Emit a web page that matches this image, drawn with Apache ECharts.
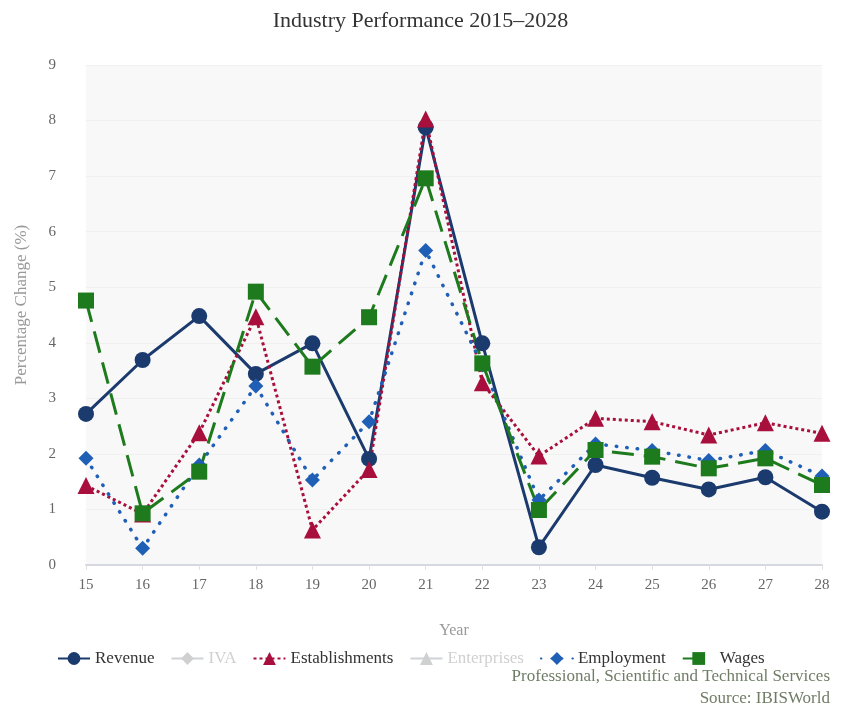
<!DOCTYPE html>
<html>
<head>
<meta charset="utf-8">
<title>Industry Performance 2015–2028</title>
<script src="https://cdn.jsdelivr.net/npm/echarts@6/dist/echarts.min.js"></script>
<style>
  html, body { margin: 0; padding: 0; background: #fff; }
  #chart { width: 841px; height: 707px; }
</style>
</head>
<body>
<div id="chart"></div>
<script>
// Values (percentage change, years 2015-2028).
const years = ["15", "16", "17", "18", "19", "20", "21", "22", "23", "24", "25", "26", "27", "28"];
const revenue = [2.72, 3.69, 4.48, 3.44, 3.99, 1.91, 7.88, 3.99, 0.32, 1.8, 1.57, 1.36, 1.58, 0.96];
const iva = [];
const establishments = [1.43, 0.92, 2.38, 4.47, 0.63, 1.72, 8.03, 3.28, 1.96, 2.64, 2.58, 2.34, 2.56, 2.37];
const enterprises = [];
const employment = [1.92, 0.3, 1.8, 3.22, 1.53, 2.58, 5.66, 3.6, 1.17, 2.18, 2.06, 1.88, 2.06, 1.6];
const wages = [4.76, 0.93, 1.68, 4.92, 3.57, 4.46, 6.96, 3.63, 0.99, 2.07, 1.95, 1.74, 1.92, 1.44];

const serif = "Liberation Serif";

let lineSeries = (name, data, color, symbol, size, dash, cap, width) => ({
  name: name,
  type: "line",
  data: data,
  symbol: symbol,
  symbolSize: size,
  showAllSymbol: true,
  itemStyle: { color: color },
  lineStyle: { color: color, width: width || 3, type: dash, cap: cap || "butt" },
  emphasis: { disabled: true },
});

let chart = echarts.init(document.getElementById("chart"));

chart.setOption({
  animation: false,
  backgroundColor: "#ffffff",
  textStyle: { fontFamily: serif },
  title: {
    text: "Industry Performance 2015–2028",
    left: "center",
    top: 5,
    textStyle: { fontFamily: serif, fontSize: 22, fontWeight: "normal", color: "#333" },
  },
  grid: {
    left: 86,
    right: 19,
    top: 65,
    bottom: 142,
    show: true,
    backgroundColor: "#f8f8f8",
    borderWidth: 0,
  },
  legend: {
    left: 52,
    top: 645,
    itemWidth: 32,
    itemHeight: 16,
    itemGap: 16,
    textStyle: { fontFamily: serif, fontSize: 17, color: "#333" },
    inactiveColor: "#d0d0d0",
    selected: { IVA: false, Enterprises: false },
    data: ["Revenue", "IVA", "Establishments", "Enterprises", "Employment", "Wages"],
  },
  xAxis: {
    type: "category",
    data: years,
    boundaryGap: false,
    name: "Year",
    nameLocation: "middle",
    nameGap: 58,
    nameTextStyle: { fontFamily: serif, fontSize: 16, color: "#999" },
    axisLine: { lineStyle: { color: "#d5d8de", width: 2 } },
    axisTick: { show: true, length: 5, lineStyle: { color: "#e0e0e0" } },
    axisLabel: { fontFamily: serif, fontSize: 15, color: "#666", margin: 13 },
    splitLine: { show: false },
  },
  yAxis: {
    type: "value",
    min: 0,
    max: 9,
    interval: 1,
    name: "Percentage Change (%)",
    nameLocation: "middle",
    nameGap: 56,
    nameTextStyle: { fontFamily: serif, fontSize: 17, color: "#999", padding: [0, 0, 0, 20] },
    axisLine: { show: false },
    axisTick: { show: false },
    axisLabel: { fontFamily: serif, fontSize: 15, color: "#666", margin: 30 },
    splitLine: { lineStyle: { color: "#f0f0f0", width: 1 } },
  },
  graphic: [
    {
      type: "text",
      right: 11,
      top: 668,
      style: { text: "Professional, Scientific and Technical Services", font: "17px 'Liberation Serif'", fill: "#6f7d66" },
    },
    {
      type: "text",
      right: 11,
      top: 690,
      style: { text: "Source: IBISWorld", font: "17px 'Liberation Serif'", fill: "#6f7d66" },
    },
  ],
  series: [
    lineSeries("Revenue", revenue, "#1b3a6d", "circle", 16, "solid"),
    lineSeries("IVA", iva, "#9aa0a6", "diamond", 15, "solid"),
    lineSeries("Establishments", establishments, "#a80f3c", "triangle", 17, [3, 3]),
    lineSeries("Enterprises", enterprises, "#9aa0a6", "triangle", 15, "solid"),
    lineSeries("Employment", employment, "#1f5fb6", "diamond", 15, [0.5, 10], "round", 3.5),
    lineSeries("Wages", wages, "#1d7a1d", "rect", 16, [22, 10]),
  ],
});
</script>
</body>
</html>
